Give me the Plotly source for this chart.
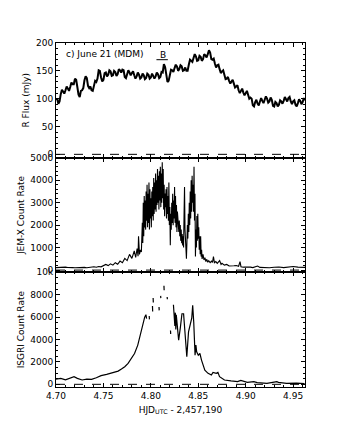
import plotly.graph_objects as go

# ---------------- data ----------------
# Panel 1: R-band flux (mJy)
r_x = [4.70000, 4.70125, 4.70250, 4.70375, 4.70500, 4.70625, 4.70750, 4.70875,
       4.71000, 4.71125, 4.71250, 4.71375, 4.71500, 4.71625, 4.71750, 4.71875,
       4.72000, 4.72125, 4.72250, 4.72375, 4.72500, 4.72625, 4.72750, 4.72875,
       4.73000, 4.73125, 4.73250, 4.73375, 4.73500, 4.73625, 4.73750, 4.73875,
       4.74000, 4.74125, 4.74250, 4.74375, 4.74500, 4.74625, 4.74750, 4.74875,
       4.75000, 4.75125, 4.75250, 4.75375, 4.75500, 4.75625, 4.75750, 4.75875,
       4.76000, 4.76125, 4.76250, 4.76375, 4.76500, 4.76625, 4.76750, 4.76875,
       4.77000, 4.77125, 4.77250, 4.77375, 4.77500, 4.77625, 4.77750, 4.77875,
       4.78000, 4.78125, 4.78250, 4.78375, 4.78500, 4.78625, 4.78750, 4.78875,
       4.79000, 4.79125, 4.79250, 4.79375, 4.79500, 4.79625, 4.79750, 4.79875,
       4.80000, 4.80125, 4.80250, 4.80375, 4.80500, 4.80625, 4.80750, 4.80875,
       4.81000, 4.81125, 4.81250, 4.81375, 4.81500, 4.81625, 4.81750, 4.81875,
       4.82000, 4.82125, 4.82250, 4.82375, 4.82500, 4.82625, 4.82750, 4.82875,
       4.83000, 4.83125, 4.83250, 4.83375, 4.83500, 4.83625, 4.83750, 4.83875,
       4.84000, 4.84125, 4.84250, 4.84375, 4.84500, 4.84625, 4.84750, 4.84875,
       4.85000, 4.85125, 4.85250, 4.85375, 4.85500, 4.85625, 4.85750, 4.85875,
       4.86000, 4.86125, 4.86250, 4.86375, 4.86500, 4.86625, 4.86750, 4.86875,
       4.87000, 4.87125, 4.87250, 4.87375, 4.87500, 4.87625, 4.87750, 4.87875,
       4.88000, 4.88125, 4.88250, 4.88375, 4.88500, 4.88625, 4.88750, 4.88875,
       4.89000, 4.89125, 4.89250, 4.89375, 4.89500, 4.89625, 4.89750, 4.89875,
       4.90000, 4.90125, 4.90250, 4.90375, 4.90500, 4.90625, 4.90750, 4.90875,
       4.91000, 4.91125, 4.91250, 4.91375, 4.91500, 4.91625, 4.91750, 4.91875,
       4.92000, 4.92125, 4.92250, 4.92375, 4.92500, 4.92625, 4.92750, 4.92875,
       4.93000, 4.93125, 4.93250, 4.93375, 4.93500, 4.93625, 4.93750, 4.93875,
       4.94000, 4.94125, 4.94250, 4.94375, 4.94500, 4.94625, 4.94750, 4.94875,
       4.95000, 4.95125, 4.95250, 4.95375, 4.95500, 4.95625, 4.95750, 4.95875,
       4.96000, 4.96125, 4.96250]
r_flux = [98, 100, 91, 95, 108, 116, 113, 109,
          115, 122, 118, 114, 121, 129, 126, 126,
          136, 134, 121, 107, 103, 114, 115, 119,
          133, 140, 137, 123, 119, 122, 115, 114,
          123, 132, 130, 136, 151, 150, 138, 131,
          134, 146, 147, 140, 143, 151, 149, 141,
          142, 150, 148, 141, 144, 153, 151, 147,
          152, 151, 139, 137, 144, 151, 147, 142,
          146, 149, 142, 136, 140, 147, 143, 136,
          138, 145, 142, 135, 137, 145, 143, 136,
          138, 145, 141, 136, 140, 147, 144, 137,
          139, 148, 147, 162, 157, 138, 130, 132,
          143, 152, 151, 148, 155, 161, 158, 150,
          153, 160, 158, 150, 151, 156, 150, 150,
          161, 170, 168, 166, 173, 180, 176, 168,
          169, 177, 175, 168, 171, 180, 178, 174,
          180, 187, 183, 171, 170, 172, 163, 156,
          160, 161, 153, 146, 149, 151, 143, 135,
          136, 139, 132, 127, 131, 134, 127, 120,
          122, 124, 115, 110, 114, 118, 111, 106,
          110, 114, 107, 100, 102, 100, 88, 86,
          94, 98, 91, 88, 95, 101, 96, 92,
          98, 104, 100, 93, 95, 102, 98, 87,
          86, 94, 92, 86, 89, 97, 95, 91,
          96, 103, 99, 95, 101, 103, 95, 90,
          95, 97, 89, 86, 92, 99, 96, 90,
          94, 101, 97]

# Panel 2: JEM-X count rate
j_x = [4.7000, 4.7025, 4.7050, 4.7075, 4.7100, 4.7125, 4.7150, 4.7175, 4.7200, 4.7225,
       4.7250, 4.7275, 4.7300, 4.7325, 4.7350, 4.7375, 4.7400, 4.7425, 4.7450, 4.7475,
       4.7500, 4.7525, 4.7550, 4.7575, 4.7600, 4.7625, 4.7650, 4.7675, 4.7700, 4.7725,
       4.7750, 4.7775, 4.7800, 4.7825, 4.7840, 4.7855, 4.7865, 4.7870, 4.7880, 4.7890,
       4.7900, 4.7910, 4.7915, 4.7920, 4.7925, 4.7930, 4.7935, 4.7940, 4.7945, 4.7950,
       4.7955, 4.7960, 4.7965, 4.7970, 4.7975, 4.7980, 4.7985, 4.7990, 4.7995, 4.8000,
       4.8005, 4.8010, 4.8015, 4.8020, 4.8025, 4.8030, 4.8035, 4.8040, 4.8045, 4.8050,
       4.8055, 4.8060, 4.8065, 4.8070, 4.8075, 4.8080, 4.8085, 4.8090, 4.8095, 4.8100,
       4.8105, 4.8110, 4.8115, 4.8120, 4.8125, 4.8130, 4.8135, 4.8140, 4.8145, 4.8150,
       4.8155, 4.8160, 4.8165, 4.8170, 4.8175, 4.8180, 4.8185, 4.8190, 4.8195, 4.8200,
       4.8205, 4.8210, 4.8215, 4.8220, 4.8225, 4.8230, 4.8235, 4.8240, 4.8245, 4.8250,
       4.8255, 4.8260, 4.8265, 4.8270, 4.8275, 4.8280, 4.8285, 4.8290, 4.8295, 4.8300,
       4.8305, 4.8310, 4.8315, 4.8320, 4.8325, 4.8330, 4.8335, 4.8340, 4.8345, 4.8350,
       4.8355, 4.8360, 4.8365, 4.8370, 4.8375, 4.8380, 4.8385, 4.8390, 4.8395, 4.8400,
       4.8405, 4.8410, 4.8415, 4.8420, 4.8425, 4.8430, 4.8435, 4.8440, 4.8445, 4.8450,
       4.8455, 4.8460, 4.8465, 4.8470, 4.8475, 4.8480, 4.8485, 4.8490, 4.8495, 4.8500,
       4.8505, 4.8510, 4.8515, 4.8520, 4.8525, 4.8530, 4.8535, 4.8540, 4.8550, 4.8560,
       4.8570, 4.8580, 4.8590, 4.8600, 4.8610, 4.8625, 4.8640, 4.8650, 4.8660, 4.8670,
       4.8685, 4.8700, 4.8715, 4.8725, 4.8740, 4.8750, 4.8775, 4.8800, 4.8825, 4.8850,
       4.8875, 4.8900, 4.8925, 4.8940, 4.8950, 4.8975, 4.9000, 4.9025, 4.9050, 4.9075,
       4.9100, 4.9125, 4.9150, 4.9175, 4.9200, 4.9250, 4.9300, 4.9350, 4.9400, 4.9450,
       4.9500, 4.9550, 4.9600, 4.9625]
j_rate = [110, 120, 105, 125, 130, 115, 100, 110, 105, 115,
          100, 110, 120, 105, 125, 140, 150, 130, 160, 145,
          180, 250, 200, 280, 220, 330, 260, 400, 330, 520,
          420, 700, 520, 850, 560, 960, 620, 1500, 700, 900,
          800, 2100, 1200, 3000, 1500, 3300, 1900, 3100, 1800, 3500,
          2200, 3800, 1900, 3400, 2100, 3900, 1800, 3600, 2300, 3200,
          1900, 3500, 2400, 3700, 2200, 4100, 2500, 3900, 2700, 4300,
          2600, 4000, 2900, 4500, 3000, 4200, 2700, 4400, 3100, 4600,
          2800, 4300, 3000, 4800, 3200, 4500, 2700, 3800, 2400, 3400,
          2800, 3600, 2300, 3700, 2500, 3300, 2200, 3900, 2000, 2800,
          1100, 2500, 1800, 3000, 2100, 3400, 2000, 3100, 2300, 3700,
          2100, 3300, 1900, 2900, 1700, 2600, 2000, 2300, 1700, 2200,
          1500, 2000, 1300, 1800, 1200, 1600, 1100, 1500, 1000, 2500,
          3700, 1800, 900, 1400, 500, 1200, 2000, 1400, 2500, 1700,
          3000, 2000, 3500, 2300, 4000, 2600, 4200, 3000, 3800, 2600,
          4600, 2200, 3400, 600, 1800, 1000, 2400, 1300, 2500, 1400,
          1900, 900, 1500, 700, 1500, 600, 900, 500, 700, 450,
          550, 380, 480, 350, 420, 330, 400, 340, 600, 330,
          380, 300, 350, 420, 250, 300, 220, 250, 180, 200,
          190, 200, 170, 380, 150, 130, 140, 120, 130, 110,
          140, 180, 120, 110, 120, 105, 125, 140, 110, 120,
          160, 130, 110, 120]

# Panel 3: ISGRI count rate (None = data gap)
i_x = [4.7000, 4.7050, 4.7100, 4.7155, 4.7190, 4.7225, 4.7275, 4.7325, 4.7375, 4.7425,
       4.7475, 4.7534, 4.7570, 4.7620, 4.7655, 4.7690, 4.7725, 4.7760, 4.7793, 4.7828,
       4.7862, 4.7886, 4.7914, 4.7935, 4.7948, 4.7955, 4.7960,
       4.7983, 4.7985, 4.7986,
       4.8017, 4.8019, 4.8020,
       4.8024, 4.8026, 4.8027,
       4.8086, 4.8088, 4.8089,
       4.8103, 4.8105, 4.8106,
       4.8138, 4.8140, 4.8141,
       4.8172, 4.8174, 4.8175,
       4.8207, 4.8209, 4.8210,
       4.8238, 4.8243, 4.8248, 4.8253, 4.8258, 4.8263, 4.8268, 4.8275, 4.8283, 4.8293,
       4.8310, 4.8328, 4.8345, 4.8362, 4.8379, 4.8397, 4.8414, 4.8431, 4.8441, 4.8452,
       4.8466, 4.8475, 4.8483, 4.8500, 4.8517, 4.8534, 4.8569, 4.8603, 4.8638, 4.8655,
       4.8690, 4.8707, 4.8724, 4.8741, 4.8776, 4.8845, 4.8914, 4.8948, 4.9017, 4.9086,
       4.9121, 4.9224, 4.9328, 4.9345, 4.9431, 4.9534, 4.9621]
i_rate = [470, 530, 400, 590, 680, 530, 385, 470, 440, 590,
          770, 890, 980, 1125, 1180, 1360, 1570, 1865, 2310, 2750,
          3500, 4380, 5420, 6000, 6215, 5860, None,
          6100, 5800, None,
          7000, 6500, None,
          7700, 7300, None,
          6900, 6600, None,
          7900, 7700, None,
          8800, 8400, None,
          7800, 7600, None,
          4800, 4500, None,
          7100, 6000, 6600, 5200, 6400, 4900, 6200, 5600, 4800, 3940,
          5000, 6300, 6300, 4680, 2460, 4680, 5420, 5900, 7050, 5570,
          2600, 3500, 2900, 2600, 2750, 2160, 1270, 980, 830, 1065,
          980, 1065, 680, 600, 385, 300, 240, 355, 180, 240,
          150, 90, 240, 180, 90, 100, 60]

# Tick values / labels
x_ticks = [4.70, 4.75, 4.80, 4.85, 4.90, 4.95]
x_ticklabels = ["4.70", "4.75", "4.80", "4.85", "4.90", "4.95"]
r_ticks = [0, 50, 100, 150, 200]
j_ticks = [0, 1000, 2000, 3000, 4000, 5000]
i_ticks = [0, 2000, 4000, 6000, 8000, 10000]

# annotation positions (data units)
B_BAR_X = [4.8059, 4.8179]
B_BAR_Y = 170
B_TEXT_POS = (4.8131, 178)
TITLE_POS = (4.7086, 180)

# ---------------- figure ----------------
FONT = "DejaVu Sans"
fig = go.Figure()
fig.add_trace(go.Scatter(x=r_x, y=r_flux, mode="lines", line=dict(color="black", width=2.0),
                         xaxis="x", yaxis="y", showlegend=False))
fig.add_trace(go.Scatter(x=j_x, y=j_rate, mode="lines", line=dict(color="black", width=1.1),
                         xaxis="x2", yaxis="y2", showlegend=False))
fig.add_trace(go.Scatter(x=i_x, y=i_rate, mode="lines", line=dict(color="black", width=1.2),
                         connectgaps=False, xaxis="x3", yaxis="y3", showlegend=False))

XR = [4.70, 4.9625]
tickfont = dict(family=FONT, size=9, color="black")
titlefont = dict(family=FONT, size=9, color="black")

def xaxis(anchor, show_labels):
    return dict(range=XR, showline=True, linecolor="black", linewidth=1, mirror="allticks",
                ticks="inside", ticklen=4, tickcolor="black", tickwidth=1,
                tickvals=x_ticks, ticktext=x_ticklabels, showticklabels=show_labels,
                showgrid=False, zeroline=False, tickfont=tickfont, anchor=anchor,
                minor=dict(dtick=0.01, tick0=4.70, ticks="inside", ticklen=2, tickcolor="black",
                           showgrid=False))

def yaxis(rng, ticks, minor_dt, domain, title, standoff):
    return dict(range=rng, domain=domain, showline=True, linecolor="black", linewidth=1,
                mirror="allticks", ticks="inside", ticklen=4, tickcolor="black", tickwidth=1,
                tickvals=ticks, showgrid=False, zeroline=False, tickfont=tickfont,
                minor=dict(dtick=minor_dt, tick0=0, ticks="inside", ticklen=2,
                           tickcolor="black", showgrid=False),
                title=dict(text=title, font=titlefont, standoff=standoff))

h = 1 / 3
fig.update_layout(
    width=331, height=423,
    margin=dict(l=44, r=34, t=35, b=44),
    paper_bgcolor="white", plot_bgcolor="white",
    xaxis=xaxis("y", False),
    xaxis2=xaxis("y2", False),
    xaxis3=dict(xaxis("y3", True),
                title=dict(text="HJD<sub>UTC</sub> - 2,457,190", font=titlefont, standoff=6)),
    yaxis=yaxis([-6, 200], r_ticks, 10, [2 * h, 1], "R Flux (mJy)", 4),
    yaxis2=yaxis([-100, 5000], j_ticks, 200, [h, 2 * h], "JEM-X Count Rate", 4),
    yaxis3=yaxis([-240, 10000], i_ticks, 500, [0, h], "ISGRI Count Rate", 4),
)
fig.update_layout(xaxis2=dict(matches="x"), xaxis3=dict(matches="x"))

# dashed zero lines
for xr, yr in (("x", "y"), ("x2", "y2"), ("x3", "y3")):
    fig.add_shape(type="line", xref=f"{xr} domain", yref=yr, x0=0, x1=1, y0=0, y1=0,
                  line=dict(color="black", width=1, dash="dash"))

# "B" bar and labels
fig.add_shape(type="line", xref="x", yref="y", x0=B_BAR_X[0], x1=B_BAR_X[1],
              y0=B_BAR_Y, y1=B_BAR_Y, line=dict(color="black", width=1))
fig.add_annotation(x=B_TEXT_POS[0], y=B_TEXT_POS[1], xref="x", yref="y", text="B",
                   showarrow=False, font=dict(family=FONT, size=9, color="black"))
fig.add_annotation(x=TITLE_POS[0], y=TITLE_POS[1], xref="x", yref="y", text="c) June 21 (MDM)",
                   showarrow=False, xanchor="left",
                   font=dict(family=FONT, size=9, color="black"))

fig.write_html("out.html")
